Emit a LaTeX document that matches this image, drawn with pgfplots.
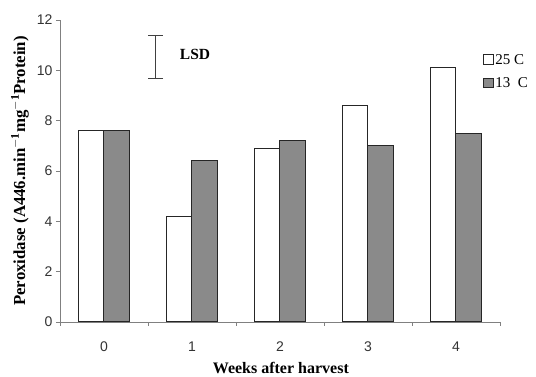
\documentclass[border=0pt]{standalone}
\usepackage{pgfplots}
\pgfplotsset{compat=1.18}
\usepackage{fontspec}
\setmainfont{Liberation Serif}
\newfontfamily\arial{Liberation Sans}
\definecolor{barg}{HTML}{8A8A8A}
\definecolor{axg}{HTML}{808080}
\begin{document}
\begin{tikzpicture}[x=1pt,y=1pt]
\begin{axis}[
  name=ax,
  at={(0,0)}, anchor=south west,
  width=440pt, height=302pt, scale only axis,
  xmin=-0.5, xmax=4.5, ymin=0, ymax=12,
  ybar=0pt, bar width=0.285,
  axis x line*=bottom, axis y line*=left,
  axis line style={draw=axg, line width=0.8pt},
  xtick={0,1,2,3,4},
  major x tick style={draw=none},
  minor xtick={-0.5,0.5,1.5,2.5,3.5,4.5},
  minor x tick style={draw=axg, line width=0.8pt},
  minor tick length=4pt,
  ytick={0,2,...,12},
  major y tick style={draw=axg, line width=0.8pt},
  major tick length=4pt,
  tick align=outside,
  ticklabel style={font=\arial\fontsize{14}{16}\selectfont, text=black!80},
  xticklabel style={anchor=center, yshift=-20.5pt},
  yticklabel style={anchor=east, xshift=0pt},
  /pgf/number format/assume math mode=true,
  xlabel={\bfseries Weeks after harvest},
  xlabel style={font=\fontsize{16}{18}\selectfont, at={(axis description cs:0.502,-0.152)}, anchor=center},
  ylabel={\bfseries Peroxidase (A446.min$^{\mathbf{-1}}$mg$^{\mathbf{-1}}$Protein)},
  ylabel style={font=\fontsize{16.8}{19}\selectfont, at={(axis description cs:-0.0909,0.5)}, anchor=center},
  legend style={draw=none, fill=none, at={(0.961,0.893)}, anchor=north west,
    font=\fontsize{15}{17}\selectfont, row sep=8pt, inner sep=0pt,
    /tikz/every even column/.append style={column sep=1pt}},
  legend cell align=left,
  legend image code/.code={\draw[#1, line width=0.8pt] (0pt,-4pt) rectangle (9.5pt,5.5pt);},
]
\addplot[draw=black!85, fill=white, line width=1pt] coordinates {(0,7.6) (1,4.2) (2,6.9) (3,8.6) (4,10.1)};
\addlegendentry{25 C}
\addplot[draw=black!85, fill=barg, line width=1pt] coordinates {(0,7.6) (1,6.4) (2,7.2) (3,7.0) (4,7.5)};
\addlegendentry{13\ \ C}
\addplot[forget plot, sharp plot, draw=none, mark=none,
  error bars/.cd, y dir=both, y explicit,
  error bar style={draw=black!75, line width=1pt},
  error mark options={draw=black!75, line width=1pt, mark size=7.5pt, rotate=90}]
  coordinates {(0.443,10.535) +- (0,0.855)};
\node[font=\bfseries\fontsize{15.5}{17}\selectfont] at (axis cs:1.034,10.65) {LSD};
\end{axis}
\path (-60,-53) rectangle (476,322);
\end{tikzpicture}
\end{document}
